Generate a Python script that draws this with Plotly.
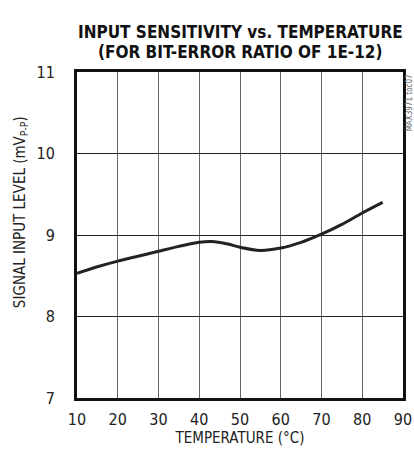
import plotly.graph_objects as go

# curve
temp_c = [10, 15, 20, 25, 30, 35, 40, 43, 47, 50, 55, 60, 65, 70, 75, 80, 85]
level_mv = [8.53, 8.61, 8.68, 8.74, 8.80, 8.86, 8.91, 8.92, 8.89, 8.85, 8.81, 8.84, 8.91, 9.01, 9.13, 9.27, 9.40]

x_ticks = [10, 20, 30, 40, 50, 60, 70, 80, 90]
y_ticks = [7, 8, 9, 10, 11]

FONT = "DejaVu Sans Condensed, Liberation Sans Narrow, sans-serif"

fig = go.Figure(go.Scatter(
    x=temp_c, y=level_mv, mode="lines",
    line=dict(color="#222", width=3, shape="spline", smoothing=0.8),
    hoverinfo="skip",
))

fig.update_layout(
    width=414, height=455,
    margin=dict(l=77, r=11, t=72, b=57),
    paper_bgcolor="white", plot_bgcolor="white",
    showlegend=False,
    font=dict(family=FONT, size=16, color="#222"),
)

fig.update_xaxes(
    range=[10, 90], tickvals=x_ticks, ticks="", ticklabelstandoff=5,
    showgrid=True, gridcolor="#666", gridwidth=1,
    showline=True, linecolor="#111", linewidth=3, mirror=True,
    zeroline=False, automargin=False,
    title=dict(text="TEMPERATURE (°C)", font=dict(size=15), standoff=2),
)
fig.update_yaxes(
    range=[7, 11], tickvals=y_ticks, ticks="", ticklabelstandoff=16,
    showgrid=True, gridcolor="#222", gridwidth=1,
    showline=True, linecolor="#111", linewidth=3, mirror=True,
    zeroline=False, automargin=False,
)

# titles as annotations so they sit where the reference has them
title_font = dict(family=FONT, size=17, color="#111")
fig.add_annotation(text="<b>INPUT SENSITIVITY vs. TEMPERATURE</b>", xref="paper", yref="paper",
                   x=0.5, y=1.16, xanchor="center", showarrow=False, font=title_font)
fig.add_annotation(text="<b>(FOR BIT-ERROR RATIO OF 1E-12)</b>", xref="paper", yref="paper",
                   x=0.5, y=1.098, xanchor="center", showarrow=False, font=title_font)
fig.add_annotation(text="SIGNAL INPUT LEVEL (mV<sub>P-P</sub>)", xref="paper", yref="paper",
                   x=-0.175, y=0.57, xanchor="center", yanchor="middle",
                   showarrow=False, textangle=-90, font=dict(size=15, color="#222"))
fig.add_annotation(
    text="MAX3971 toc07", xref="paper", yref="paper", x=1.021, y=1.0,
    xanchor="center", yanchor="top", showarrow=False, textangle=-90,
    font=dict(size=8, color="#666"),
)

fig.write_html(
    "out.html",
    config={"displayModeBar": False},
    post_script="document.body.style.margin='0';document.body.style.overflow='hidden';",
)
